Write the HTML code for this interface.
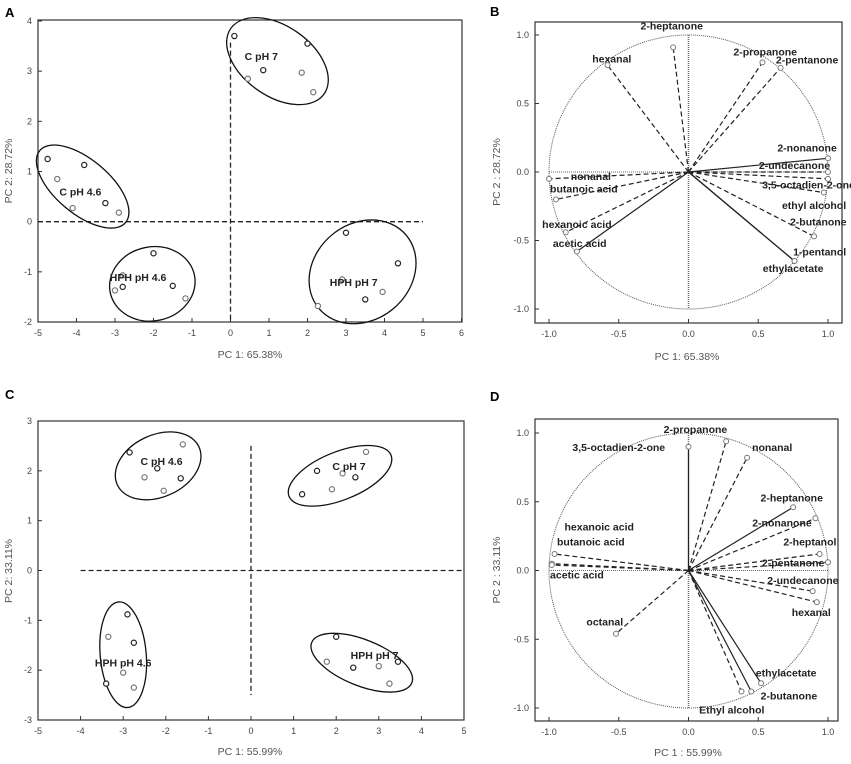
<!DOCTYPE html>
<html><head><meta charset="utf-8"><style>
body{margin:0;background:#fff}
svg{display:block;font-family:"Liberation Sans",sans-serif}
.tk{font-size:9px;fill:#444}
.ttl{font-size:10.5px;fill:#555}
.lbl{font-size:10.5px;font-weight:bold;fill:#222}
.pl{font-size:13px;font-weight:bold;fill:#000}
</style></head><body>
<svg id="fig" width="851" height="764" viewBox="0 0 851 764" xmlns="http://www.w3.org/2000/svg"></svg>
<script>
// ---- Panel A data (scores) ----
const aGroups = ["C pH 7","C pH 4.6","HPH pH 4.6","HPH pH 7"];
const aX = [[0.1,0.45,0.85,1.85,2.0,2.15],[-4.75,-4.5,-3.8,-4.1,-3.25,-2.9],[-2.0,-2.8,-2.8,-3.0,-1.5,-1.17],[3.0,2.9,4.35,3.95,3.5,2.27]];
const aY = [[3.7,2.85,3.02,2.97,3.55,2.58],[1.25,0.85,1.13,0.27,0.37,0.18],[-0.63,-1.07,-1.3,-1.37,-1.28,-1.53],[-0.22,-1.15,-0.83,-1.4,-1.55,-1.68]];
const aLabelX = [0.8,-3.9,-2.4,3.2];
const aLabelY = [3.3,0.6,-1.1,-1.2];
const aEllCX = [1.22,-3.84,-2.03,3.43];
const aEllCY = [3.2,0.7,-1.24,-1.0];
const aXTicks = [-5,-4,-3,-2,-1,0,1,2,3,4,5,6];
const aYTicks = [-2,-1,0,1,2,3,4];
// ---- Panel C data (scores) ----
const cGroups = ["C pH 4.6","C pH 7","HPH pH 4.6","HPH pH 7"];
const cX = [[-2.85,-2.5,-2.2,-2.05,-1.65,-1.6],[1.55,2.15,2.45,2.7,1.2,1.9],[-2.9,-3.35,-2.75,-3.0,-3.4,-2.75],[2.0,1.78,2.4,3.0,3.45,3.25]];
const cY = [[2.37,1.87,2.05,1.6,1.85,2.53],[2.0,1.95,1.87,2.38,1.53,1.63],[-0.88,-1.33,-1.45,-2.05,-2.27,-2.35],[-1.33,-1.83,-1.95,-1.92,-1.83,-2.27]];
const cLabelX = [-2.1,2.3,-3.0,2.9];
const cLabelY = [2.2,2.1,-1.85,-1.7];
const cEllCX = [-2.18,2.09,-3.0,2.6];
const cEllCY = [2.1,1.9,-1.69,-1.85];
const cXTicks = [-5,-4,-3,-2,-1,0,1,2,3,4,5];
const cYTicks = [-3,-2,-1,0,1,2,3];
// ---- Panel B loadings ----
const bNames = ["2-heptanone","hexanal","2-propanone","2-pentanone","2-nonanone","2-undecanone","3,5-octadien-2-one","ethyl alcohol","2-butanone","1-pentanol","ethylacetate","nonanal","butanoic acid","hexanoic acid","acetic acid"];
const bX = [-0.11,-0.58,0.53,0.66,1.0,1.0,1.0,0.97,0.9,0.76,0.76,-1.0,-0.95,-0.88,-0.8];
const bY = [0.91,0.78,0.8,0.76,0.1,0.0,-0.05,-0.15,-0.47,-0.65,-0.65,-0.05,-0.2,-0.44,-0.58];
const bLX = [-0.12,-0.55,0.55,0.85,0.85,0.76,0.86,0.9,0.93,0.94,0.75,-0.7,-0.75,-0.8,-0.78];
const bLY = [1.07,0.83,0.88,0.82,0.18,0.05,-0.09,-0.24,-0.36,-0.58,-0.7,-0.03,-0.12,-0.38,-0.52];
const bSolid = [0,0,0,0,1,0,0,0,0,1,1,0,0,0,1];
// ---- Panel D loadings ----
const dNames = ["3,5-octadien-2-one","2-propanone","nonanal","2-heptanone","2-nonanone","2-heptanol","2-pentanone","2-undecanone","hexanal","ethylacetate","2-butanone","Ethyl alcohol","hexanoic acid","butanoic acid","acetic acid","octanal"];
const dX = [0.0,0.27,0.42,0.75,0.91,0.94,1.0,0.89,0.92,0.52,0.45,0.38,-0.96,-0.98,-0.98,-0.52];
const dY = [0.9,0.94,0.82,0.46,0.38,0.12,0.06,-0.15,-0.23,-0.82,-0.88,-0.88,0.12,0.05,0.04,-0.46];
const dLX = [-0.5,0.05,0.6,0.74,0.67,0.87,0.75,0.82,0.88,0.7,0.72,0.31,-0.64,-0.7,-0.8,-0.6];
const dLY = [0.9,1.03,0.9,0.53,0.35,0.21,0.06,-0.07,-0.3,-0.74,-0.91,-1.01,0.32,0.21,-0.03,-0.37];
const dSolid = [1,0,0,1,0,0,0,0,0,1,1,0,0,0,0,0];
const lTicks = [-1.0,-0.5,0.0,0.5,1.0];

const NS="http://www.w3.org/2000/svg", fig=document.getElementById('fig');
function mk(tag,attrs,parent,text){const e=document.createElementNS(NS,tag);for(const k in attrs)e.setAttribute(k,attrs[k]);if(text!==undefined)e.textContent=text;(parent||fig).appendChild(e);return e;}
function axis(cfg){
  const sx=v=>cfg.x0+(v-cfg.vx0)*(cfg.x1-cfg.x0)/(cfg.vx1-cfg.vx0);
  const sy=v=>cfg.y0+(v-cfg.vy0)*(cfg.y1-cfg.y0)/(cfg.vy1-cfg.vy0);
  const g=mk('g',{});
  
  
  const f=mk('rect',{x:cfg.fl,y:cfg.ft,width:cfg.fr-cfg.fl,height:cfg.fb-cfg.ft,fill:'none',stroke:'#333','stroke-width':1.2},g);
  
  
  cfg.xt.forEach(t=>{const x=sx(t);mk('line',{x1:x,x2:x,y1:cfg.fb,y2:cfg.fb-4,stroke:'#333'},g);
    const e=mk('text',{x:x,y:cfg.fb+14,'text-anchor':'middle',class:'tk'},g,cfg.fmt(t));
    
    });
  cfg.yt.forEach(t=>{const y=sy(t);mk('line',{x1:cfg.fl,x2:cfg.fl+4,y1:y,y2:y,stroke:'#333'},g);
    const e=mk('text',{x:cfg.fl-6,y:y+3,'text-anchor':'end',class:'tk'},g,cfg.fmt(t));
    
    });
  const xt=mk('text',{x:cfg.xtx,y:cfg.xty,'text-anchor':'middle',class:'ttl'},g,cfg.xtitle);
  
  
  const yt=mk('text',{x:0,y:0,'text-anchor':'middle',class:'ttl',transform:`translate(${cfg.ytx},${cfg.yty}) rotate(-90)`},g,cfg.ytitle);
  
  
  const pl=mk('text',{x:cfg.plx,y:cfg.ply,class:'pl'},g,cfg.letter);
  
  
  return {sx,sy,g};
}
const fInt=t=>String(t), fDec=t=>t.toFixed(1);

function scores(ax,groups,X,Y,LX,LY,ECX,ECY,ell,hline,vline){
  const {sx,sy,g}=ax;
  mk('line',{x1:sx(hline[0]),x2:sx(hline[1]),y1:sy(0),y2:sy(0),stroke:'#222','stroke-width':1.3,'stroke-dasharray':'5,3'},g);
  mk('line',{x1:sx(0),x2:sx(0),y1:sy(vline[0]),y2:sy(vline[1]),stroke:'#222','stroke-width':1.3,'stroke-dasharray':'5,3'},g);
  groups.forEach((n,i)=>{
    const e=mk('ellipse',{cx:0,cy:0,rx:ell[i][0],ry:ell[i][1],fill:'none',stroke:'#111','stroke-width':1.3,transform:`translate(${sx(ECX[i])},${sy(ECY[i])}) rotate(${ell[i][2]})`},g);
    
    
    X[i].forEach((x,j)=>{const c=mk('circle',{cx:sx(x),cy:sy(Y[i][j]),r:2.6,fill:'#fff',stroke:j%2?'#777':'#222','stroke-width':1.2},g);
      
      });
    const t=mk('text',{x:sx(LX[i]),y:sy(LY[i])+4,'text-anchor':'middle',class:'lbl'},g,n);
    
    
  });
}
function loadings(ax,names,X,Y,LX,LY,S){
  const {sx,sy,g}=ax;
  const r=sx(1)-sx(0), ry=sy(0)-sy(1);
  const c=mk('ellipse',{cx:sx(0),cy:sy(0),rx:r,ry:ry,fill:'none',stroke:'#555','stroke-width':1,'stroke-dasharray':'1,1'},g);
  
  
  mk('line',{x1:sx(-1),x2:sx(1),y1:sy(0),y2:sy(0),stroke:'#666','stroke-dasharray':'1,1'},g);
  mk('line',{x1:sx(0),x2:sx(0),y1:sy(1),y2:sy(-1),stroke:'#666','stroke-dasharray':'1,1','stroke-width':1.5},g);
  names.forEach((n,i)=>{
    const l=mk('line',{x1:sx(0),y1:sy(0),x2:sx(X[i]),y2:sy(Y[i]),stroke:'#222','stroke-width':1.2,'stroke-dasharray':S[i]?'none':'5,3'},g);
    
    
    const p=mk('circle',{cx:sx(X[i]),cy:sy(Y[i]),r:2.5,fill:'#fff',stroke:'#777','stroke-width':1},g);
    
    
    const t=mk('text',{x:sx(LX[i]),y:sy(LY[i])+4,'text-anchor':'middle',class:'lbl'},g,n);
    
    
  });
}

const A=axis({name:'panel-a',letter:'A',plx:5,ply:17,x0:38,x1:461.5,vx0:-5,vx1:6,y0:21,y1:322,vy0:4,vy1:-2,fl:38,fr:462,ft:20,fb:322,xt:aXTicks,yt:aYTicks,fmt:fInt,xtitle:'PC 1: 65.38%',xtx:250,xty:358,ytitle:'PC 2: 28.72%',ytx:12,yty:171});
scores(A,aGroups,aX,aY,aLabelX,aLabelY,aEllCX,aEllCY,[[57,35,35],[56,27,40],[43,37,-12],[57,48,-40]],[-5,5],[3.57,-2]);
const C=axis({name:'panel-c',letter:'C',plx:5,ply:399,x0:38,x1:464,vx0:-5,vx1:5,y0:421,y1:720,vy0:3,vy1:-3,fl:38,fr:464,ft:421,fb:720,xt:cXTicks,yt:cYTicks,fmt:fInt,xtitle:'PC 1: 55.99%',xtx:250,xty:755,ytitle:'PC 2: 33.11%',ytx:12,yty:571});
scores(C,cGroups,cX,cY,cLabelX,cLabelY,cEllCX,cEllCY,[[45,31,-25],[55,24,-22],[23,53,-5],[54,23,22]],[-4,5],[2.5,-2.5]);
const B=axis({name:'panel-b',letter:'B',plx:490,ply:16,x0:549,x1:828,vx0:-1,vx1:1,y0:35,y1:309,vy0:1,vy1:-1,fl:535,fr:842,ft:22,fb:323,xt:lTicks,yt:lTicks,fmt:fDec,xtitle:'PC 1: 65.38%',xtx:687,xty:360,ytitle:'PC 2 : 28.72%',ytx:500,yty:172});
loadings(B,bNames,bX,bY,bLX,bLY,bSolid);
const D=axis({name:'panel-d',letter:'D',plx:490,ply:401,x0:549,x1:828,vx0:-1,vx1:1,y0:433,y1:708,vy0:1,vy1:-1,fl:535,fr:838,ft:419,fb:721,xt:lTicks,yt:lTicks,fmt:fDec,xtitle:'PC 1 : 55.99%',xtx:688,xty:756,ytitle:'PC 2 : 33.11%',ytx:500,yty:570});
loadings(D,dNames,dX,dY,dLX,dLY,dSolid);
</script>
</body></html>
